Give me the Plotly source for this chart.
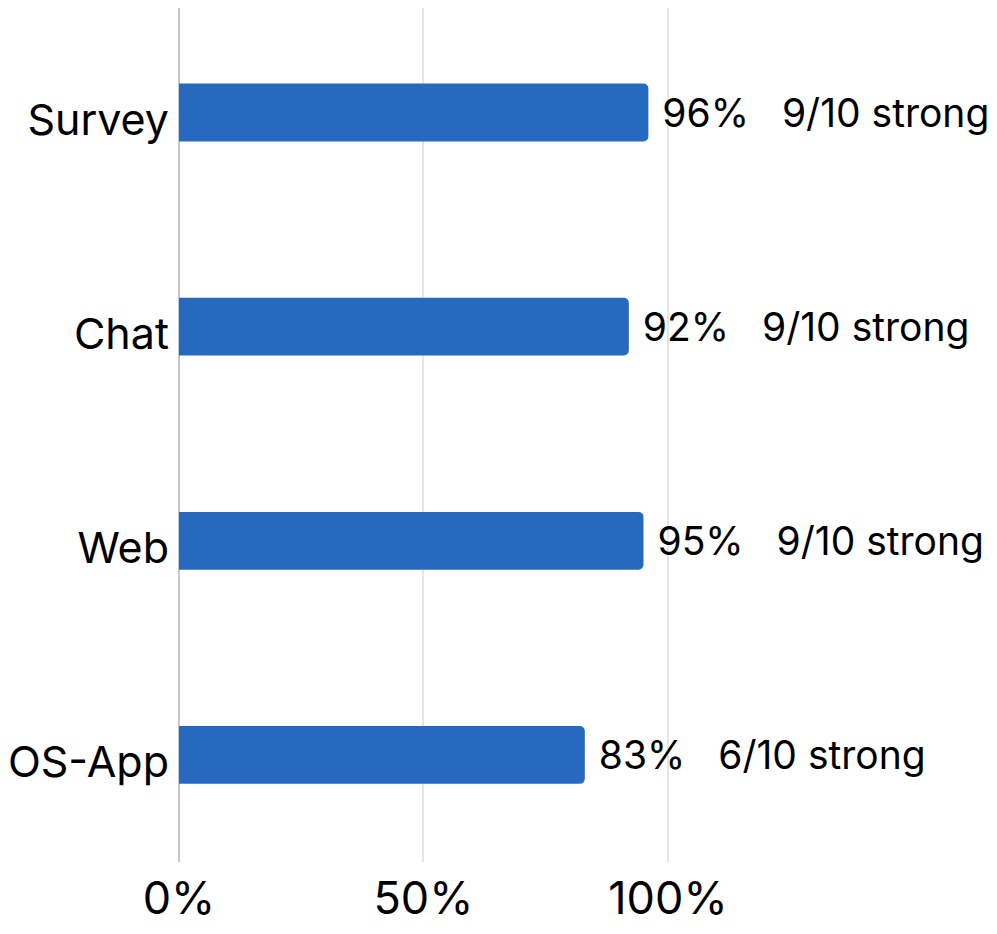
import plotly.graph_objects as go

# channel results
channels = ["Survey", "Chat", "Web", "OS-App"]
accuracy = [96, 92, 95, 83]
strong = ["9/10", "9/10", "9/10", "6/10"]
tick_vals = [0, 50, 100]
tick_text = ["0%", "50%", "100%"]

nb = "\u00a0"
labels = [f"{nb}{a}%{nb * 3}{s} strong" for a, s in zip(accuracy, strong)]

fig = go.Figure()

fig.add_trace(go.Bar(
    y=channels,
    x=accuracy,
    orientation='h',
    marker=dict(color='#2869C0', cornerradius=5, line=dict(width=0)),
    text=labels,
    textposition='outside',
    textfont=dict(size=39, color='#000000'),
    cliponaxis=False,
    showlegend=False
))

fig.update_layout(
    width=989,
    height=926,
    font=dict(family='Inter', color='#000000'),
    plot_bgcolor='white',
    paper_bgcolor='white',
    bargap=0.73,
    margin=dict(l=171, r=0, t=0, b=72),
    xaxis=dict(
        range=[0, 167.3],
        tickvals=tick_vals,
        ticktext=tick_text,
        tickfont=dict(size=45),
        showgrid=True,
        gridcolor='#E6E6E6',
        gridwidth=1.5,
        zeroline=True,
        zerolinecolor='#C8C8C8',
        zerolinewidth=1.5,
        showline=False,
        ticks='',
        ticklabelstandoff=6,
        fixedrange=True,
    ),
    yaxis=dict(
        range=[3.5, -0.488],
        tickfont=dict(size=43),
        showgrid=False,
        showline=False,
        ticks='',
        ticklabelstandoff=9,
        ticklabelshift=-7,
    ),
)

fig.write_html("out.html")
